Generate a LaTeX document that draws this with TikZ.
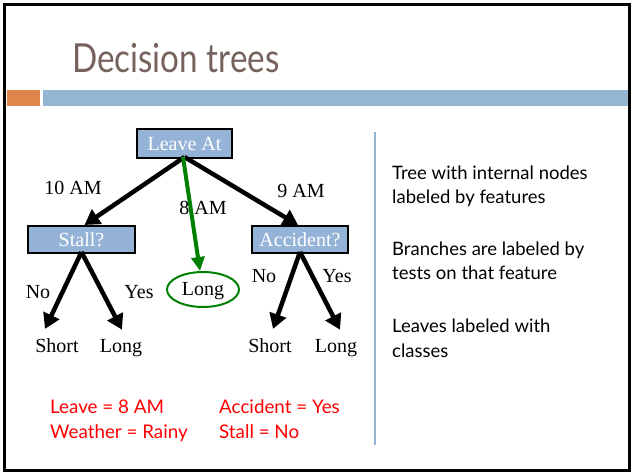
\documentclass[tikz,border=0pt]{standalone}
\usepackage{fontspec}
\setmainfont{Liberation Serif}
\newfontfamily\slidefont{Lato}
\newfontfamily\titlefont[FakeStretch=0.83]{Lato}
\usetikzlibrary{arrows.meta,shapes.geometric}
\definecolor{titlebrown}{HTML}{76625C}
\definecolor{barorange}{HTML}{DF844B}
\definecolor{barblue}{HTML}{94B6D2}
\definecolor{boxblue}{HTML}{95B3D7}
\definecolor{darkgreen}{HTML}{008000}
\begin{document}
\begin{tikzpicture}[x=1pt,y=-1pt,
  featbox/.style={draw=black,line width=2pt,fill=boxblue,text=white,inner sep=0pt,
    font=\fontsize{20}{24}\selectfont},
  lbl/.style={anchor=base,inner sep=0pt,font=\fontsize{20}{24}\selectfont},
  arr/.style={line width=4.5pt,-{Triangle[length=15pt,width=17pt]}},
  garr/.style={line width=4pt,darkgreen,-{Triangle[length=14pt,width=13pt]}},
  sidetext/.style={anchor=base west,inner sep=0pt,font=\slidefont\fontsize{18.5}{24}\selectfont},
  redtext/.style={anchor=base west,inner sep=0pt,text=red,font=\slidefont\fontsize{18.8}{24}\selectfont}]
\useasboundingbox (0,0) rectangle (634,474);
% slide frame
\draw[line width=3pt] (4.5,4) rectangle (629.5,470.5);
% title
\node[anchor=base west,inner sep=0pt,text=titlebrown,font=\titlefont\fontsize{40}{48}\selectfont] (title) at (72,72) {Decision trees};
\fill[barorange] (7,90) rectangle (40,106);
\fill[barblue] (43,90) rectangle (628,106);
% separator
\draw[barblue,line width=2pt] (375,132) -- (375,445);
% tree nodes
\node[featbox,minimum width=95pt,minimum height=29pt] (leave) at (184.5,143.5) {Leave At};
\node[featbox,minimum width=107pt,minimum height=27pt] (stall) at (81.5,239.5) {Stall?};
\node[featbox,minimum width=96pt,minimum height=27pt] (acc) at (300,239.5) {Accident?};
\node[ellipse,draw=darkgreen,line width=2pt,minimum width=72pt,minimum height=35pt,inner sep=0pt] (longm) at (203,289.5) {};
\node[lbl] (longmtext) at (203,295) {Long};
\node[lbl] (s1) at (57,352) {Short};
\node[lbl] (l1) at (121,352) {Long};
\node[lbl] (s2) at (270,352) {Short};
\node[lbl] (l2) at (336,352) {Long};
% branch labels
\node[lbl] (t10) at (73,194) {10 AM};
\node[lbl] (t8) at (203,214) {8 AM};
\node[lbl] (t9) at (301,197) {9 AM};
\node[lbl] (no1) at (38,298) {No};
\node[lbl] (yes1) at (139,298) {Yes};
\node[lbl] (no2) at (264,282) {No};
\node[lbl] (yes2) at (337,282) {Yes};
% connectors
\draw[arr] ([yshift=2pt]leave.south) -- ([xshift=3pt]stall.north);
\draw[arr] ([yshift=2pt]leave.south) -- ([xshift=-2pt]acc.north);
\draw[garr] ([xshift=-1.5pt,yshift=2pt]leave.south) -- ([xshift=-3pt]longm.north);
\draw[arr] ([yshift=2pt]stall.south) -- ([xshift=-12pt,yshift=9pt]s1.north);
\draw[arr] ([yshift=2pt]stall.south) -- ([xshift=1pt,yshift=9pt]l1.north);
\draw[arr] ([yshift=2pt]acc.south) -- ([xshift=3pt,yshift=9pt]s2.north);
\draw[arr] ([yshift=2pt]acc.south) -- ([xshift=4pt,yshift=9pt]l2.north);
% side text
\node[sidetext] (r1) at (392,179) {Tree with internal nodes};
\node[sidetext] (r2) at (392,203) {labeled by features};
\node[sidetext] (r3) at (392,255) {Branches are labeled by};
\node[sidetext] (r4) at (392,279) {tests on that feature};
\node[sidetext] (r5) at (392,332) {Leaves labeled with};
\node[sidetext] (r6) at (392,357) {classes};
% red text
\node[redtext] (e1) at (50,413) {Leave = 8 AM};
\node[redtext] (e2) at (50,438) {Weather = Rainy};
\node[redtext] (e3) at (219,413) {Accident = Yes};
\node[redtext] (e4) at (219,438) {Stall = No};
\end{tikzpicture}
\end{document}
